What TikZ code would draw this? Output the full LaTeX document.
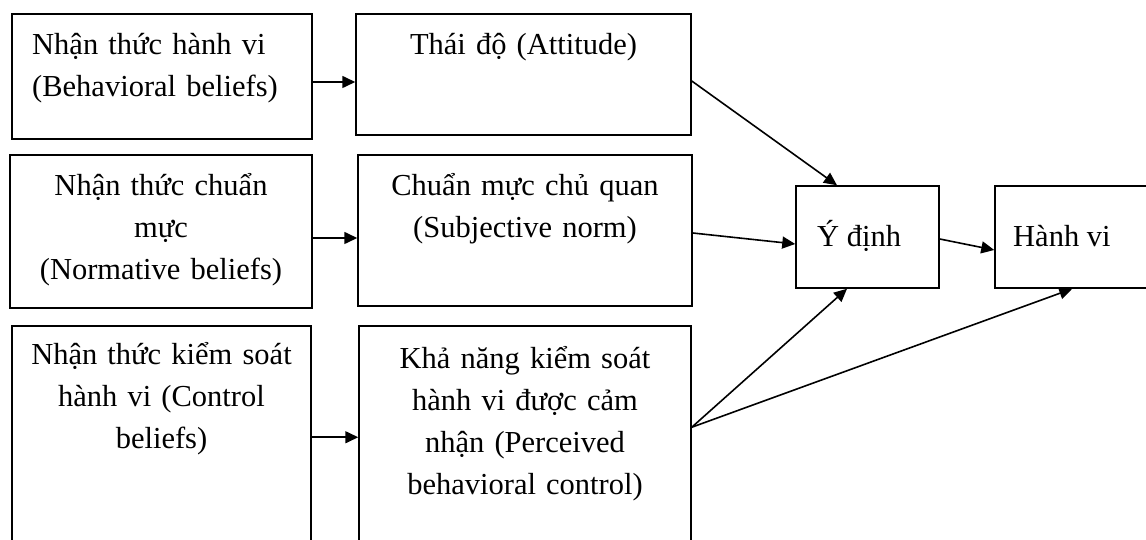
\documentclass[tikz,border=0pt]{standalone}
\usepackage{fontspec}
\setmainfont{Liberation Serif}
\usetikzlibrary{arrows.meta}
\tikzset{
  box/.style={draw=black, line width=1.5pt, inner sep=0pt, rectangle},
  lbl/.style={font=\fontsize{30.5}{42}\selectfont, inner sep=0pt, text width=330pt, align=center, anchor=base},
  lbll/.style={font=\fontsize{30.5}{42}\selectfont, inner sep=0pt, anchor=base west},
  arr/.style={draw=black, line width=1.6pt, -{Triangle[length=13pt,width=12pt]}}
}
\begin{document}
\begin{tikzpicture}[x=1pt,y=-1pt]
\fill[white] (0,0) rectangle (1146,540);
\useasboundingbox (0,0) rectangle (1146,540);
\clip (0,0) rectangle (1146,540);
% boxes
\node[box, minimum width=300, minimum height=125] (a1) at (162,76.5) {};
\node[box, minimum width=335, minimum height=121] (a2) at (523.5,74.5) {};
\node[box, minimum width=302, minimum height=153] (b1) at (161,231.5) {};
\node[box, minimum width=334, minimum height=151] (b2) at (525,230.5) {};
\node[box, minimum width=299, minimum height=234] (c1) at (161.5,443) {};
\node[box, minimum width=332, minimum height=234] (c2) at (525,443) {};
\node[box, minimum width=143, minimum height=102] (y) at (867.5,237) {};
\node[box, minimum width=165, minimum height=102] (h) at (1077.5,237) {};
% texts
\node[lbl, anchor=base west, text width=290pt, align=left] (ta1) at (32,55) {Nhận thức hành vi\\(Behavioral beliefs)};
\node[lbl] (ta2) at (523.5,55) {Thái độ (Attitude)};
\node[lbl] (tb1) at (161,196) {Nhận thức chuẩn\\mực\\(Normative beliefs)};
\node[lbl] (tb2) at (525,196) {Chuẩn mực chủ quan\\(Subjective norm)};
\node[lbl] (tc1) at (161.5,364) {Nhận thức kiểm soát\\hành vi (Control\\beliefs)};
\node[lbl] (tc2) at (525,368) {Khả năng kiểm soát\\hành vi được cảm\\nhận (Perceived\\behavioral control)};
\node[lbll] (ty) at (817,247) {Ý định};
\node[lbll] (th) at (1013,247) {Hành vi};
% connectors
\draw[arr] ([yshift=-5.5pt]a1.east) -- ([yshift=-5.5pt]a1.east -| a2.west);
\draw[arr] ([yshift=-6.5pt]b1.east) -- ([yshift=-6.5pt]b1.east -| b2.west);
\draw[arr] ([yshift=-112pt]c1.north east) -- ([yshift=-112pt]c1.north east -| c2.west);
\draw[arr] ([yshift=-6.5pt]a2.east) -- ([xshift=-30.5pt]y.north);
\draw[arr] ([yshift=-2.5pt]b2.east) -- ([yshift=-7pt]y.west);
\draw[arr] ([yshift=-2pt]y.east) -- ([yshift=-13pt]h.west);
\draw[arr] ([yshift=-102pt]c2.north east) -- ([xshift=-20.5pt]y.south);
\draw[arr] ([yshift=-102pt]c2.north east) -- ([xshift=78pt]h.south west);
\end{tikzpicture}
\end{document}
